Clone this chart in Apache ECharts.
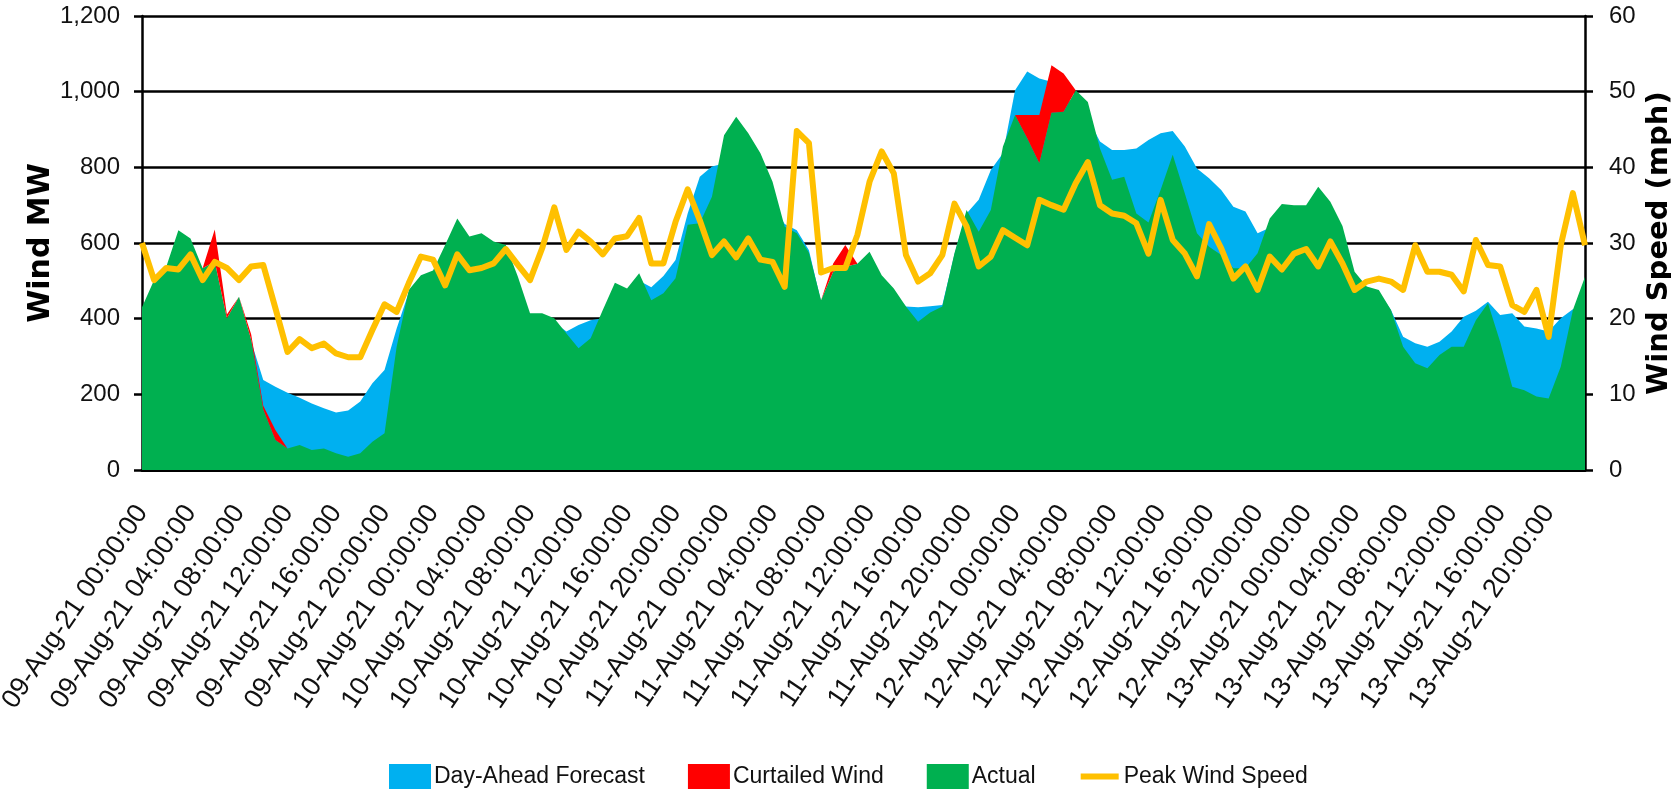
<!DOCTYPE html>
<html>
<head>
<meta charset="utf-8">
<script src="https://cdn.jsdelivr.net/npm/echarts@6/dist/echarts.min.js"></script>
<style>
  html, body { margin: 0; padding: 0; background: #fff; }
  #wind-chart { width: 1671px; height: 792px; }
</style>
</head>
<body>
<div id="wind-chart"></div>
<script>
var days = ['09-Aug-21', '10-Aug-21', '11-Aug-21', '12-Aug-21', '13-Aug-21']
var categories = []
days.forEach(function (d) {
  for (var h = 0; h < 24; h++) {
    categories.push(d + ' ' + (h < 10 ? '0' + h : h) + ':00:00')
  }
})

var forecastMW = [
  420, 490, 530, 600, 590, 520, 540, 395, 440, 340,
  238, 220, 204, 191, 176, 163, 152, 157, 181, 229,
  264, 374, 470, 505, 520, 580, 640, 600, 610, 590,
  580, 500, 405, 405, 390, 366, 383, 396, 401, 480,
  470, 500, 483, 513, 555, 678, 775, 802, 810, 840,
  820, 780, 700, 650, 634, 581, 445, 520, 530, 540,
  560, 500, 470, 432, 430, 433, 436, 570, 678, 714,
  793, 837, 1004, 1053, 1035, 1026, 990, 960, 930, 868,
  846, 846, 850, 872, 890, 896, 855, 797, 771, 740,
  696, 683, 626, 640, 690, 690, 690, 730, 700, 630,
  510, 475, 470, 423, 352, 335, 326, 339, 366, 405,
  421, 445, 410, 414, 379, 374, 366, 401, 425, 430
]
var actualMW = [
  430, 502, 537, 634, 612, 533, 551, 401, 458, 344,
  160, 79, 57, 66, 53, 57, 44, 35, 44, 75,
  97, 326, 476, 515, 527, 595, 665, 617, 626, 604,
  595, 511, 414, 414, 401, 361, 322, 348, 423, 495,
  480, 520, 449, 467, 507, 648, 652, 722, 885, 934,
  890, 837, 762, 643, 626, 574, 449, 524, 537, 545,
  577, 515, 480, 432, 392, 416, 432, 573, 687, 630,
  687, 855, 938, 877, 811, 944, 947, 1004, 973, 850,
  767, 775, 678, 654, 740, 833, 731, 626, 590, 568,
  533, 533, 573, 665, 703, 700, 700, 749, 709, 645,
  524, 485, 476, 423, 326, 282, 269, 304, 326, 326,
  396, 441, 339, 220, 211, 194, 189, 273, 423, 511
]
// curtailed MW, drawn stacked on top of actual
var curtailedMW = [
  0, 0, 0, 0, 0, 0, 85, 10, 0, 15,
  10, 27, 0, 0, 0, 0, 0, 0, 0, 0,
  0, 0, 0, 0, 0, 0, 0, 0, 0, 0,
  0, 0, 0, 0, 0, 0, 0, 0, 0, 0,
  0, 0, 0, 0, 0, 0, 0, 0, 0, 0,
  0, 0, 0, 0, 0, 0, 0, 22, 58, 0,
  0, 0, 0, 0, 0, 0, 0, 0, 0, 0,
  0, 0, 0, 61, 127, 126, 101, 0, 0, 0,
  0, 0, 0, 0, 0, 0, 0, 0, 0, 0,
  0, 0, 0, 0, 0, 0, 0, 0, 0, 0,
  0, 0, 0, 0, 0, 0, 0, 0, 0, 0,
  0, 0, 0, 0, 0, 0, 0, 0, 0, 0
]
var peakWindMph = [
  30.0, 25.1, 26.7, 26.5, 28.5, 25.1, 27.5, 26.7, 25.1, 26.9,
  27.1, 21.4, 15.6, 17.3, 16.1, 16.7, 15.4, 14.9, 14.9, 18.5,
  21.9, 20.9, 24.7, 28.2, 27.8, 24.4, 28.5, 26.4, 26.7, 27.3,
  29.2, 27.1, 25.1, 29.3, 34.7, 29.1, 31.5, 30.2, 28.5, 30.6,
  30.9, 33.3, 27.3, 27.3, 32.8, 37.1, 33.0, 28.4, 30.2, 28.1,
  30.6, 27.8, 27.5, 24.2, 44.8, 43.2, 26.1, 26.7, 26.7, 31.1,
  38.1, 42.1, 39.2, 28.4, 24.9, 26.0, 28.4, 35.2, 32.2, 26.9,
  28.2, 31.7, 30.7, 29.7, 35.7, 35.0, 34.4, 37.9, 40.7, 35.0,
  33.9, 33.6, 32.6, 28.6, 35.7, 30.4, 28.6, 25.6, 32.5, 29.3,
  25.3, 26.9, 23.8, 28.2, 26.5, 28.6, 29.2, 26.9, 30.2, 27.3,
  23.8, 24.9, 25.3, 24.9, 23.8, 29.7, 26.2, 26.2, 25.8, 23.6,
  30.4, 27.1, 26.9, 21.8, 20.9, 23.8, 17.6, 29.7, 36.6, 29.7
]

var textFont = '"Liberation Sans Narrow", "Liberation Sans", Arial, sans-serif'
var titleFont = '"DejaVu Sans", Verdana, sans-serif'

var chart = echarts.init(document.getElementById('wind-chart'))
var options = {
  backgroundColor: '#fff',
  animation: false,
  grid: {
    left: 142,
    right: 86,
    top: 16,
    bottom: 322,
    containLabel: false,
    outerBoundsMode: 'none'
  },
  legend: {
    top: 759,
    left: 384,
    itemWidth: 42,
    itemHeight: 25,
    itemGap: 43,
    textStyle: {
      fontFamily: textFont,
      fontSize: 23,
      color: '#111',
      padding: [0, 0, 0, -2]
    },
    data: [
      { name: 'Day-Ahead Forecast', icon: 'rect' },
      { name: 'Curtailed Wind', icon: 'rect' },
      { name: 'Actual', icon: 'rect' },
      { name: 'Peak Wind Speed', icon: 'path://M0,0M42,25M2,9.5L40,9.5L40,15.5L2,15.5Z' }
    ]
  },
  xAxis: {
    type: 'category',
    boundaryGap: false,
    data: categories,
    axisLine: {
      lineStyle: { color: '#000', width: 3 }
    },
    axisTick: { show: false },
    axisLabel: {
      interval: 3,
      rotate: 56,
      margin: 38,
      fontFamily: textFont,
      fontSize: 27,
      color: '#111'
    }
  },
  yAxis: [
    {
      type: 'value',
      name: 'Wind MW',
      nameLocation: 'middle',
      nameRotate: 90,
      nameGap: 86,
      nameMoveOverlap: false,
      nameTextStyle: {
        fontFamily: titleFont,
        fontWeight: 'bold',
        fontSize: 30,
        color: '#000'
      },
      min: 0,
      max: 1200,
      interval: 200,
      axisLine: {
        show: true,
        lineStyle: { color: '#000', width: 2.5 }
      },
      axisTick: {
        show: true,
        length: 8,
        lineStyle: { color: '#000', width: 2.5 }
      },
      axisLabel: {
        margin: 22,
        fontFamily: textFont,
        fontSize: 24,
        color: '#111'
      },
      splitLine: {
        show: true,
        lineStyle: { color: '#000', width: 2.5 }
      }
    },
    {
      type: 'value',
      name: 'Wind Speed (mph)',
      nameLocation: 'middle',
      nameRotate: 90,
      nameGap: 60,
      nameMoveOverlap: false,
      nameTextStyle: {
        fontFamily: titleFont,
        fontWeight: 'bold',
        fontSize: 29,
        color: '#000'
      },
      min: 0,
      max: 60,
      interval: 10,
      axisLine: {
        show: true,
        lineStyle: { color: '#000', width: 2.5 }
      },
      axisTick: {
        show: true,
        length: 8,
        lineStyle: { color: '#000', width: 2.5 }
      },
      axisLabel: {
        margin: 24,
        fontFamily: textFont,
        fontSize: 24,
        color: '#111'
      },
      splitLine: { show: false }
    }
  ],
  series: [
    {
      name: 'Day-Ahead Forecast',
      type: 'line',
      data: forecastMW,
      showSymbol: false,
      color: '#00B0F0',
      lineStyle: { width: 0 },
      areaStyle: { color: '#00B0F0', opacity: 1 }
    },
    {
      name: 'Actual',
      type: 'line',
      stack: 'wind',
      data: actualMW,
      showSymbol: false,
      color: '#00B050',
      lineStyle: { width: 0 },
      areaStyle: { color: '#00B050', opacity: 1 }
    },
    {
      name: 'Curtailed Wind',
      type: 'line',
      stack: 'wind',
      data: curtailedMW,
      showSymbol: false,
      color: '#FF0000',
      lineStyle: { width: 0 },
      areaStyle: { color: '#FF0000', opacity: 1 }
    },
    {
      name: 'Peak Wind Speed',
      type: 'line',
      yAxisIndex: 1,
      data: peakWindMph,
      showSymbol: false,
      color: '#FFC000',
      lineStyle: { color: '#FFC000', width: 6, join: 'round' },
      z: 5
    }
  ]
}
chart.setOption(options)
</script>
</body>
</html>
